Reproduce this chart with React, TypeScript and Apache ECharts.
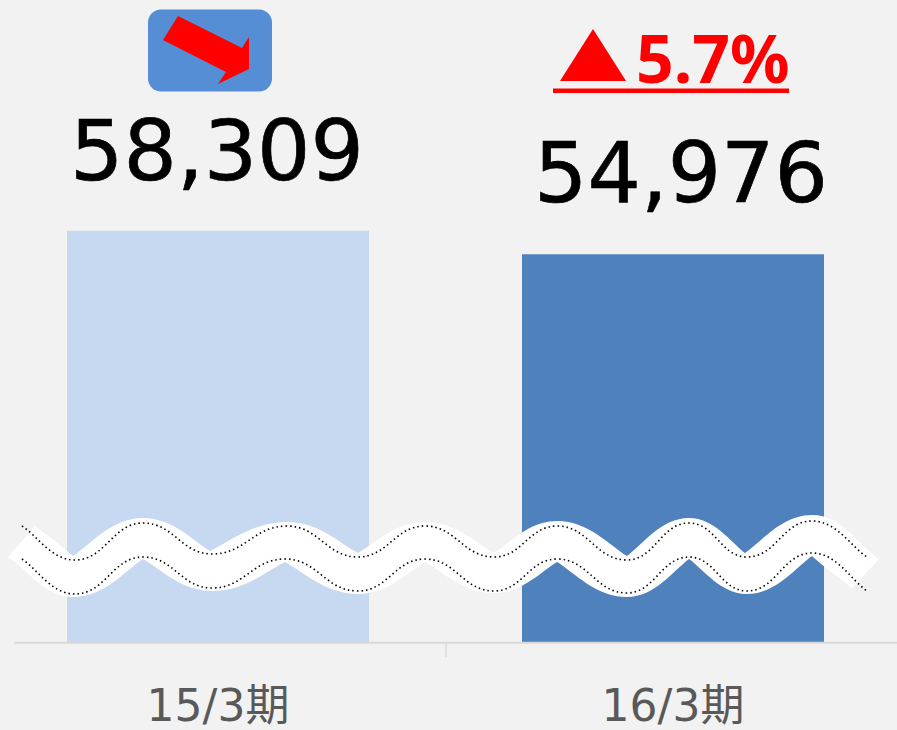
import React, { useEffect, useRef } from "react";
import * as echarts from "echarts";

const categories = ["15/3期", "16/3期"];
const values = [58309, 54976];
const barColors = ["#C6D9F1", "#4F81BD"];
const labelShifts = [[-1, 1.5], [8, -0.5]];
const changeLabel = "5.7%";

type P = [number, number];
const dotTop: P[] = [[22,526],[75,560],[143,523],[212,554],[287,526],[358,557],[425,526],[494,557],[557,526],[627,560],[689,523],[747,557],[812,521],[867,557]];
const dotBottom: P[] = [[22,559],[75,594],[143,557],[212,588],[285,559],[358,591],[425,559],[494,591],[557,559],[627,593],[689,557],[747,591],[812,553],[867,591]];
const bandTop: P[] = [[35,526],[73,556],[143,518],[210,551],[287,522],[358,553],[425,522],[494,553],[557,521],[627,556],[689,518],[745,553],[812,515],[879,559]];
const bandBottom: P[] = [[852,588],[812,556],[747,594],[689,559],[627,597],[557,562],[494,593],[425,562],[358,594],[285,562],[212,591],[143,559],[73,597],[8,557]];
const arrowPts: P[] = [[178,16],[242,48],[249,37],[249,69],[218,84],[226,72],[163,40]];
const trianglePts: P[] = [[593,29],[560,81],[626,81]];

// Smooth wave: extremes get a horizontal tangent, unless sharp() marks them as a cusp.
function wave(pts: P[], sharp: (a: P, b: P) => boolean, start = true): string {
  let d = start ? `M${pts[0][0]} ${pts[0][1]}` : `L${pts[0][0]} ${pts[0][1]}`;
  for (let i = 1; i < pts.length; i++) {
    const a = pts[i - 1];
    const b = pts[i];
    const dx = b[0] - a[0];
    const dy = b[1] - a[1];
    const isEndA = i === 1;
    const isEndB = i === pts.length - 1;
    const c1: P = isEndA ? [a[0] + dx * 0.3, a[1] + dy * 0.3]
      : sharp(a, b) ? [a[0] + dx * 0.25, a[1] + dy * 0.3]
      : [a[0] + dx * 0.45, a[1]];
    const c2: P = isEndB ? [b[0] - dx * 0.3, b[1] - dy * 0.3]
      : sharp(b, a) ? [b[0] - dx * 0.25, b[1] - dy * 0.3]
      : [b[0] - dx * 0.45, b[1]];
    d += ` C${c1[0]} ${c1[1]} ${c2[0]} ${c2[1]} ${b[0]} ${b[1]}`;
  }
  return d;
}
const round = () => false;
// top edge: cusps at its lowest points; bottom edge: cusps at its highest points
const bandPath =
  wave(bandTop, (p, q) => p[1] > q[1]) + " " +
  wave(bandBottom, (p, q) => p[1] < q[1], false) + " Z";

echarts.graphic.registerShape("waveBand", echarts.graphic.extendPath(bandPath, {}));
echarts.graphic.registerShape("waveDotTop", echarts.graphic.extendPath(wave(dotTop, round), {}));
echarts.graphic.registerShape("waveDotBottom", echarts.graphic.extendPath(wave(dotBottom, round), {}));

const BG = "#F2F2F2";
const numberFont = '"DejaVu Sans", sans-serif';
const dotted = { fill: "none", stroke: "#000", lineWidth: 1.6, lineDash: [1.5, 3] };
const PAGE_SHIFT = 10; // the chart canvas starts this far left of the page, so the first band runs off-page

export default function App() {
  const ref = useRef<HTMLDivElement>(null);
  useEffect(() => {
    document.body.style.margin = "0";
    document.body.style.background = BG;
    const chart = echarts.init(ref.current!, undefined, { renderer: "svg" });
    chart.setOption({
      animation: false,
      backgroundColor: BG,
      grid: { left: 0.5, width: 910, top: 0, bottom: 88 },
      xAxis: {
        type: "category",
        data: categories,
        axisLine: { show: false },
        axisTick: { show: true, length: 15, lineStyle: { color: "#D9D9D9", width: 1.5 } },
        axisLabel: {
          color: "#595959",
          fontSize: 44,
          lineHeight: 40,
          margin: 43,
          fontFamily: '"DejaVu Sans", "Noto Sans CJK JP", sans-serif',
        },
      },
      yAxis: { type: "value", min: 0, max: 91000, show: false, splitLine: { show: false } },
      series: [
        {
          type: "bar",
          barWidth: 302,
          data: values.map((v, i) => ({
            value: v,
            itemStyle: { color: barColors[i] },
            label: { offset: labelShifts[i] },
          })),
          label: {
            show: true,
            position: "top",
            distance: 39,
            color: "#000",
            fontSize: 84,
            fontFamily: numberFont,
            textBorderColor: "#000",
            textBorderWidth: 0.7,
            formatter: (p: any) => Number(p.value).toLocaleString("en-US"),
          },
        },
      ],
      graphic: [
        {
          type: "group",
          x: PAGE_SHIFT,
          y: 0,
          children: [
            { type: "line", z: 5, shape: { x1: 14, y1: 642.8, x2: 897, y2: 642.8 }, style: { stroke: "#D9D9D9", lineWidth: 2 } },
            { type: "waveBand", z: 10, style: { fill: "#FFFFFF", stroke: "none" } },
            { type: "waveDotTop", z: 11, style: dotted },
            { type: "waveDotBottom", z: 11, style: dotted },
            { type: "rect", z: 10, shape: { x: 148, y: 9.5, width: 124, height: 82, r: 13 }, style: { fill: "#558ED5" } },
            { type: "polygon", z: 11, shape: { points: arrowPts }, style: { fill: "#FF0000" } },
            { type: "polygon", z: 11, shape: { points: trianglePts }, style: { fill: "#FF0000" } },
            {
              type: "text", z: 11, x: 636, y: 57,
              style: {
                text: changeLabel, fill: "#FF0000", font: 'bold 66px "Noto Sans", sans-serif',
                textAlign: "left", textVerticalAlign: "middle",
              },
            },
            { type: "rect", z: 11, shape: { x: 553, y: 88.5, width: 236, height: 4.5 }, style: { fill: "#FF0000" } },
          ],
        },
      ],
    });
    return () => chart.dispose();
  }, []);
  return (
    <div style={{ position: "relative", width: 897, height: 730, overflow: "hidden", background: BG }}>
      <div ref={ref} style={{ position: "absolute", left: -PAGE_SHIFT, top: 0, width: 917, height: 730 }} />
    </div>
  );
}
